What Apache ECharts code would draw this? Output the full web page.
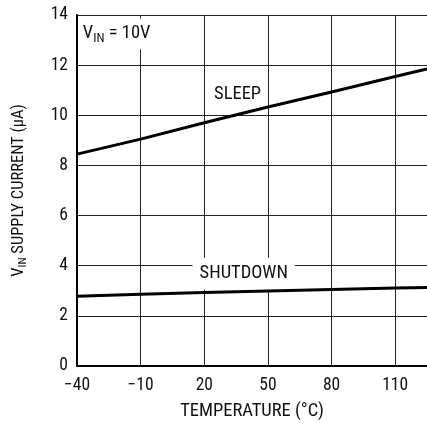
<!DOCTYPE html>
<html><head><meta charset="utf-8">
<script src="https://cdn.jsdelivr.net/npm/echarts@6/dist/echarts.min.js"></script>
<style>html,body{margin:0;padding:0;background:#fff}#c{width:427px;height:423px}</style>
</head><body><div id="c"></div>
<script>
const temps = [-40, -10, 20, 50, 80, 110, 125];
const sleep = [8.45, 9.05, 9.7, 10.33, 10.93, 11.55, 11.85];
const shutdown = [2.78, 2.86, 2.93, 2.99, 3.05, 3.11, 3.13];
const xTicks = [-40, -10, 20, 50, 80, 110];
const yTicks = [0, 2, 4, 6, 8, 10, 12, 14];
const FONT = "'Liberation Sans Narrow','Roboto Condensed','Liberation Sans',sans-serif";
const C = '#111';

const chart = echarts.init(document.getElementById('c'));
const lineStyle = {color: '#000', width: 3};
chart.setOption({
  animation: false,
  grid: {left: 77, right: 0, top: 15, bottom: 57, containLabel: false, outerBoundsMode: 'none'},
  xAxis: [{
    type: 'value', min: -40, max: 125, interval: 30,
    axisLine: {show: true, onZero: false, lineStyle: {color: '#000', width: 2}},
    axisTick: {show: false},
    axisLabel: {color: C, fontSize: 17.5, fontFamily: FONT, margin: 11, showMaxLabel: false,
      formatter: v => xTicks.includes(v) ? String(v).replace('-', '\u2212') : ''},
    splitLine: {show: true, lineStyle: {color: '#222', width: 1}},
    name: 'TEMPERATURE (°C)', nameLocation: 'middle', nameGap: 36,
    nameTextStyle: {color: C, fontSize: 18.5, fontFamily: FONT}
  }, {
    type: 'value', position: 'top', min: -40, max: 125,
    axisLine: {show: true, lineStyle: {color: '#000', width: 2}},
    axisTick: {show: false}, axisLabel: {show: false}, splitLine: {show: false}
  }],
  yAxis: {
    type: 'value', min: 0, max: 14, interval: 2,
    axisLine: {show: true, onZero: false, lineStyle: {color: '#000', width: 2}},
    axisTick: {show: false},
    axisLabel: {color: C, fontSize: 17.5, fontFamily: FONT, margin: 9,
      formatter: v => yTicks.includes(v) ? String(v) : ''},
    splitLine: {show: true, lineStyle: {color: '#222', width: 1}},
    name: '{n|V}{s|IN}{n| SUPPLY CURRENT (µA)}', nameLocation: 'middle', nameGap: 48, nameRotate: 90,
    nameTextStyle: {color: C, fontSize: 16.5, fontFamily: FONT,
      rich: {n: {fontSize: 16.5, fontFamily: FONT, color: C},
             s: {fontSize: 11.5, fontFamily: FONT, color: C, padding: [9, 0, 0, 0]}}}
  },
  series: [{
    type: 'line', name: 'SLEEP', showSymbol: false, symbol: 'none',
    data: temps.map((t, i) => [t, sleep[i]]), lineStyle, z: 5,
    markPoint: {symbol: 'circle', symbolSize: 0, silent: true,
      data: [
        {coord: [35.7, 10.83], label: {show: true, formatter: 'SLEEP', color: C, fontSize: 18.5, fontFamily: FONT, position: 'inside'}},
        {coord: [-38.7, 13.25], label: {show: true, formatter: '{n|V}{s|IN}{n| = 10V}', position: 'right', distance: 0,
          backgroundColor: '#fff', padding: [4, 4, 4, 3],
          rich: {n: {fontSize: 18.5, fontFamily: FONT, color: C},
                 s: {fontSize: 13, fontFamily: FONT, color: C, padding: [10, 0, 0, 0]}}}}
      ]}
  }, {
    type: 'line', name: 'SHUTDOWN', showSymbol: false, symbol: 'none',
    data: temps.map((t, i) => [t, shutdown[i]]), lineStyle, z: 5,
    markPoint: {symbol: 'circle', symbolSize: 0, silent: true,
      data: [
        {coord: [38.6, 3.68], label: {show: true, formatter: 'SHUTDOWN', color: C, fontSize: 18.5, fontFamily: FONT, position: 'inside',
          backgroundColor: '#fff', padding: [6, 7, 7, 7]}}
      ]}
  }]
});
</script></body></html>
